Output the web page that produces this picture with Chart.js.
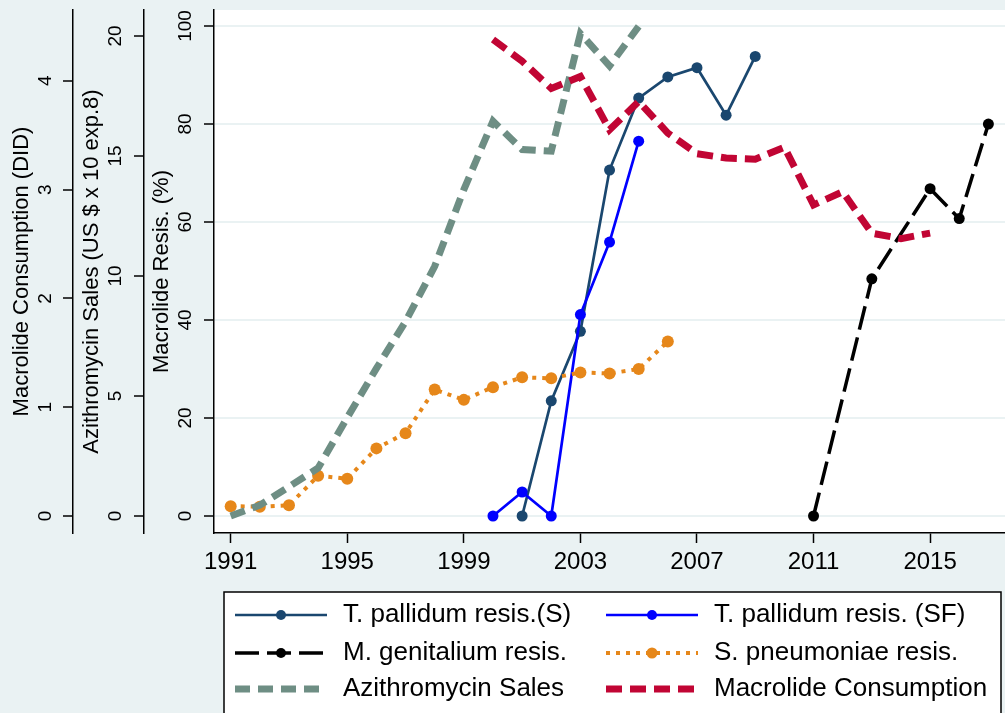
<!DOCTYPE html>
<html>
<head>
<meta charset="utf-8">
<script src="https://cdn.jsdelivr.net/npm/chart.js@4.4.0/dist/chart.umd.min.js"></script>
<style>
html, body { margin: 0; padding: 0; background: #eaf2f3; }
</style>
</head>
<body>
<canvas id="chart" width="1005" height="713"></canvas>
<script>
// tick labels
const xTicks = [1991, 1995, 1999, 2003, 2007, 2011, 2015]
const resisTicks = [0, 20, 40, 60, 80, 100]
const salesTicks = [0, 5, 10, 15, 20]
const consTicks = [0, 1, 2, 3, 4]

// T. pallidum resistance, (S) and (SF), %
const tpYears = [2001, 2002, 2003, 2004, 2005, 2006, 2007, 2008, 2009]
const tpResis = [0, 23.5, 37.7, 70.6, 85.3, 89.6, 91.5, 81.8, 93.8]
const tpsfYears = [2000, 2001, 2002, 2003, 2004, 2005]
const tpsfResis = [0, 4.9, 0, 41.1, 55.9, 76.5]

// M. genitalium resistance, %
const mgYears = [2011, 2013, 2015, 2016, 2017]
const mgResis = [0, 48.4, 66.8, 60.7, 80.0]

// S. pneumoniae resistance, %
const spYears = [1991, 1992, 1993, 1994, 1995, 1996, 1997, 1998, 1999, 2000, 2001, 2002, 2003, 2004, 2005, 2006]
const spResis = [2.0, 1.9, 2.2, 8.2, 7.6, 13.8, 16.9, 25.8, 23.7, 26.3, 28.3, 28.1, 29.3, 29.1, 30.0, 35.6]

// Azithromycin sales (US $ x 10^8)
const azYears = [1991, 1992, 1993, 1994, 1995, 1996, 1997, 1998, 1999, 2000, 2001, 2002, 2003, 2004, 2005]
const azSales = [0, 0.45, 1.22, 2.0, 4.1, 6.15, 8.1, 10.4, 13.6, 16.45, 15.27, 15.2, 20.1, 18.75, 20.4]

// Macrolide consumption (DID)
const mcYears = [2000, 2001, 2002, 2003, 2004, 2005, 2006, 2007, 2008, 2009, 2010, 2011, 2012, 2013, 2014, 2015]
const mcCons = [4.38, 4.18, 3.93, 4.04, 3.55, 3.81, 3.52, 3.33, 3.29, 3.28, 3.39, 2.86, 2.98, 2.60, 2.55, 2.60]

const FONT = "'Liberation Sans', Arial, Helvetica, sans-serif"
const BG = '#eaf2f3'

const pts = (xs, ys) => xs.map((x, i) => ({x: x, y: ys[i]}))
const setTicks = list => axis => { axis.ticks = list.map(v => ({value: v})) }
// no extra room for the end labels, plot area fixed by layout padding
const noPad = ax => { ax.paddingTop = 0; ax.paddingBottom = 0; ax.paddingLeft = 0; ax.paddingRight = 0 }

const bgPlugin = {
    id: 'bg',
    beforeDraw(chart) {
        const {ctx, chartArea: a} = chart
        ctx.save()
        ctx.fillStyle = BG
        ctx.fillRect(0, 0, chart.width, chart.height)
        ctx.fillStyle = '#fff'
        ctx.fillRect(a.left, a.top, a.right - a.left, a.bottom - a.top)
        ctx.restore()
    }
}

// stata style legend box, two columns
const legendPlugin = {
    id: 'boxLegend',
    afterDraw(chart) {
        const ctx = chart.ctx
        const rows = [615, 653, 689]
        ctx.save()
        ctx.fillStyle = '#fff'
        ctx.fillRect(224, 592, 777, 130)
        ctx.strokeStyle = '#000'
        ctx.lineWidth = 1.5
        ctx.strokeRect(224, 592, 777, 130)
        chart.data.datasets.forEach((d, i) => {
            const x0 = i % 2 ? 606 : 235
            const y = rows[Math.floor(i / 2)]
            ctx.strokeStyle = d.borderColor
            ctx.lineWidth = d.borderWidth
            ctx.setLineDash(d.borderDash || [])
            ctx.beginPath()
            ctx.moveTo(x0, y)
            ctx.lineTo(x0 + 92, y)
            ctx.stroke()
            ctx.setLineDash([])
            if (d.pointRadius > 0) {
                ctx.fillStyle = d.borderColor
                ctx.beginPath()
                ctx.arc(x0 + 46, y, d.pointRadius - 0.5, 0, Math.PI * 2)
                ctx.fill()
            }
            ctx.fillStyle = '#000'
            ctx.font = '26px ' + FONT
            ctx.textBaseline = 'middle'
            ctx.fillText(d.label, x0 + 108, y)
        })
        ctx.restore()
    }
}

const line = (label, data, color, width, dash, radius, axis, order) => ({
    label: label,
    data: data,
    yAxisID: axis,
    borderColor: color,
    backgroundColor: color,
    pointBackgroundColor: color,
    pointBorderWidth: 0,
    pointRadius: radius,
    borderWidth: width,
    borderDash: dash,
    tension: 0,
    fill: false,
    order: order
})

const tickFont = {family: FONT, size: 19}
const titleFont = {family: FONT, size: 22}

const yAxis = (min, max, ticks, weight, width, pad, title, titlePad, gridOn) => ({
    type: 'linear',
    position: 'left',
    weight: weight,
    min: min,
    max: max,
    afterBuildTicks: setTicks(ticks),
    afterFit: ax => { ax.width = width; noPad(ax) },
    grid: {
        drawOnChartArea: gridOn,
        color: BG,
        lineWidth: 2,
        tickColor: '#000',
        tickWidth: 1.5,
        tickLength: 10
    },
    border: {color: '#000', width: 1.5},
    ticks: {
        color: '#000',
        font: tickFont,
        minRotation: 90,
        maxRotation: 90,
        crossAlign: 'center',
        padding: pad,
        callback: v => String(v)
    },
    title: {display: true, text: title, color: '#000', font: titleFont, padding: {top: titlePad, bottom: 0}}
})

let ctx = document.getElementById('chart').getContext('2d')
let chart = new Chart(ctx, {
    type: 'line',
    data: {
        datasets: [
            line('T. pallidum resis.(S)', pts(tpYears, tpResis), '#1a476f', 2.7, [], 5.5, 'y', 6),
            line('T. pallidum resis. (SF)', pts(tpsfYears, tpsfResis), '#0000ff', 2.7, [], 5.5, 'y', 5),
            line('M. genitalium resis.', pts(mgYears, mgResis), '#000000', 3.5, [24, 8], 5.5, 'y', 4),
            line('S. pneumoniae resis.', pts(spYears, spResis), '#e6871a', 4, [4, 6], 6, 'y', 3),
            line('Azithromycin Sales', pts(azYears, azSales), '#6e8e84', 7, [15, 8], 0, 'ySales', 2),
            line('Macrolide Consumption', pts(mcYears, mcCons), '#c10534', 7, [16, 8], 0, 'yCons', 1)
        ]
    },
    options: {
        responsive: false,
        animation: false,
        layout: {
            autoPadding: false,
            padding: {left: 0, right: 0, top: 10, bottom: 120}
        },
        plugins: {
            legend: {display: false},
            tooltip: {enabled: false}
        },
        scales: {
            x: {
                type: 'linear',
                min: 1990.427,
                max: 2017.57,
                afterBuildTicks: setTicks(xTicks),
                afterFit: ax => { ax.height = 60; noPad(ax) },
                grid: {drawOnChartArea: false, tickColor: '#000', tickWidth: 1.5, tickLength: 10},
                border: {color: '#000', width: 1.5},
                ticks: {
                    color: '#000',
                    font: {family: FONT, size: 24},
                    padding: 5,
                    maxRotation: 0,
                    autoSkip: false,
                    callback: v => String(v)
                }
            },
            y: yAxis(-3.47, 103.27, resisTicks, 0, 70, 2, 'Macrolide Resis. (%)', 5, true),
            ySales: yAxis(-0.708, 21.08, salesTicks, 1, 71, 8, 'Azithromycin Sales (US $ x 10 exp.8)', 6, false),
            yCons: yAxis(-0.156, 4.651, consTicks, 2, 73, 12, 'Macrolide Consumption (DID)', 9, false)
        }
    },
    plugins: [bgPlugin, legendPlugin]
})
</script>
</body>
</html>
